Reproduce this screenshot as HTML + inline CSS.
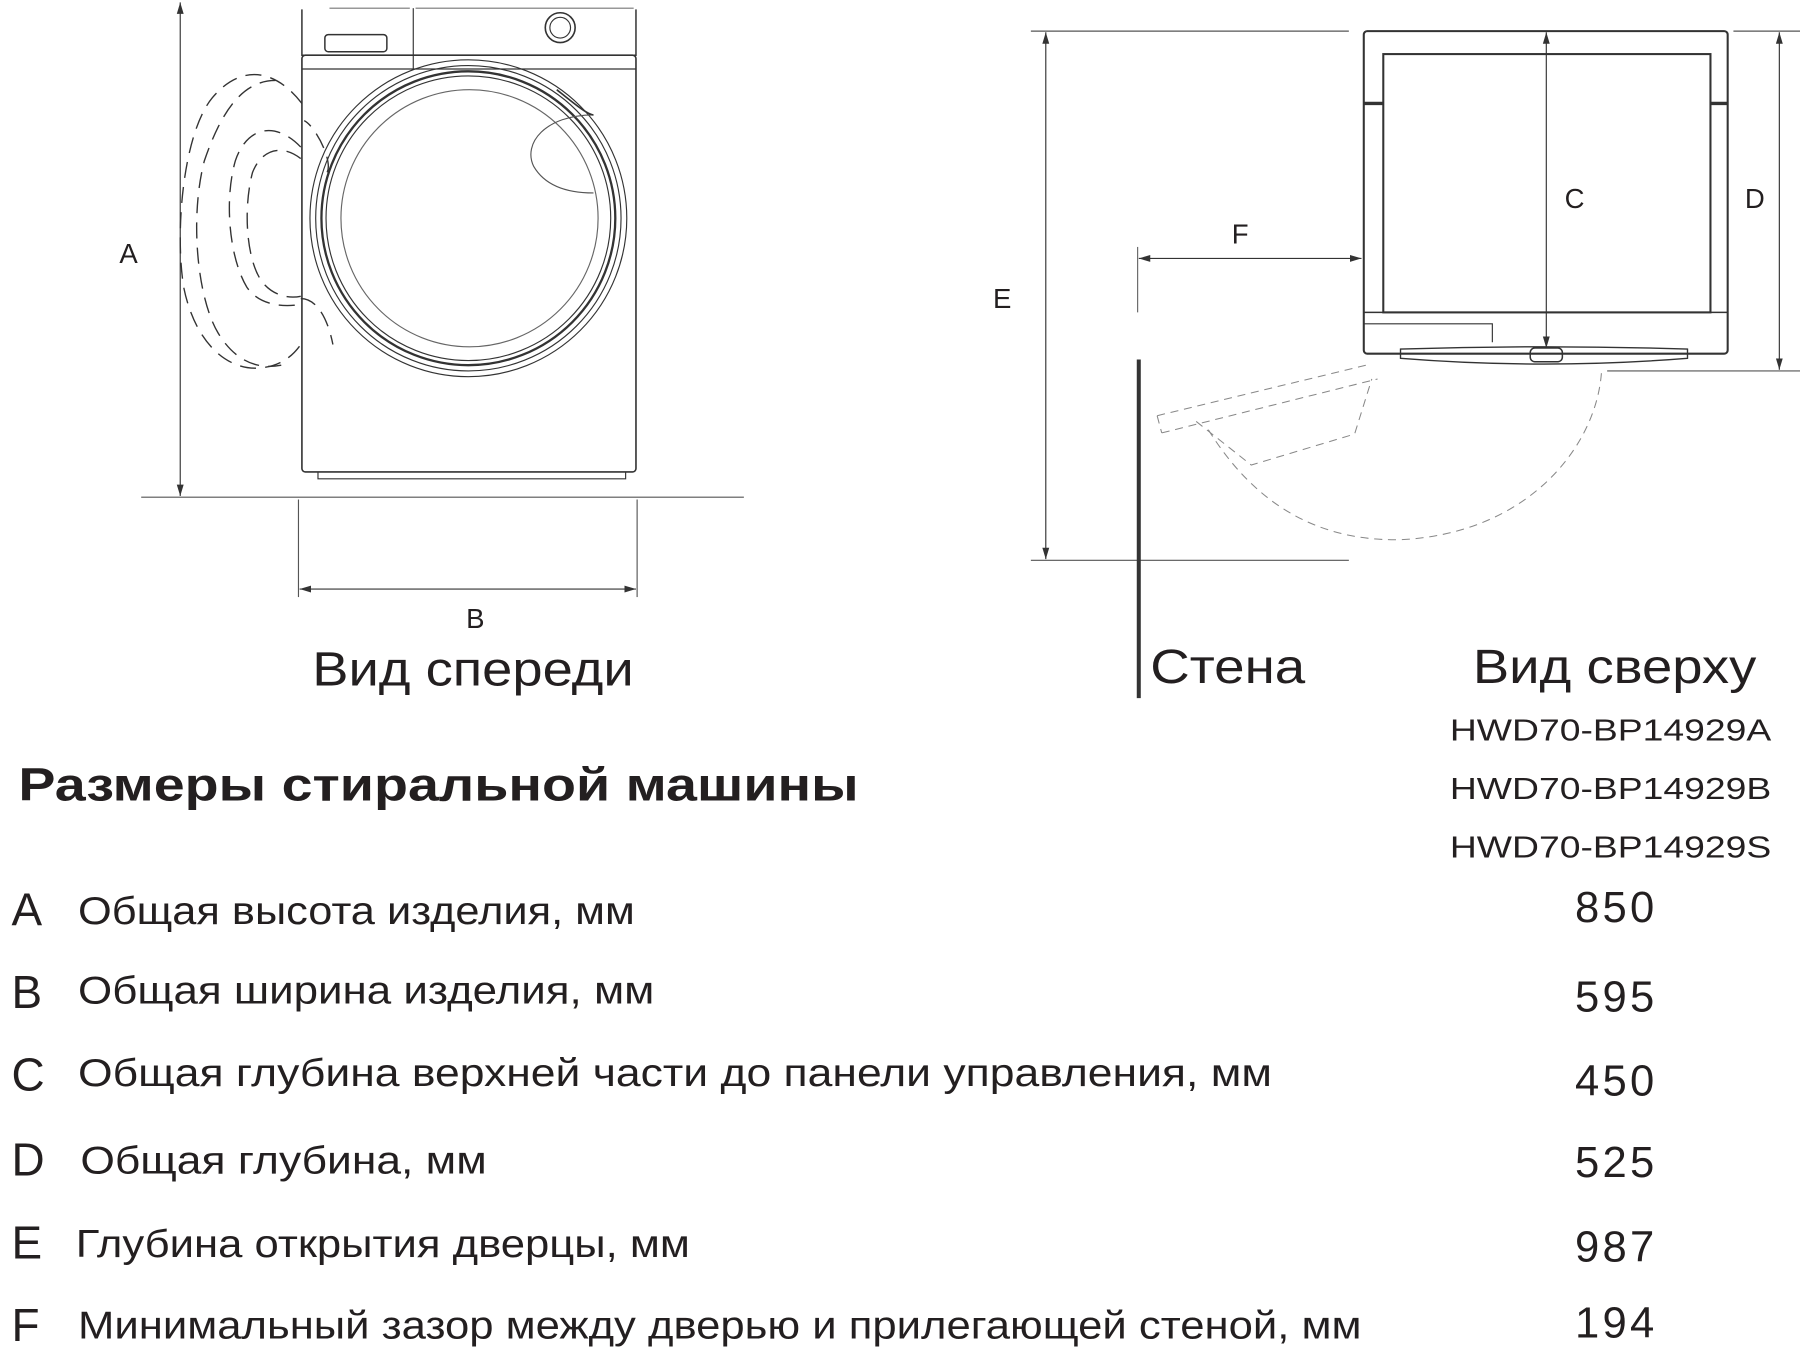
<!DOCTYPE html>
<html><head><meta charset="utf-8"><style>
html,body{margin:0;padding:0;background:#fff;}
svg{display:block;}
text{font-family:"Liberation Sans","DejaVu Sans",sans-serif;fill:#231f20;}
</style></head><body>
<svg width="1800" height="1356" viewBox="0 0 1568 1181" xmlns="http://www.w3.org/2000/svg">
<defs>
<marker id="ar" viewBox="0 0 10 10" refX="10" refY="5" markerWidth="10" markerHeight="10" orient="auto-start-reverse" markerUnits="userSpaceOnUse">
<path d="M0,2 L10,5 L0,8 z" fill="#333"/></marker>
</defs>
<g stroke="#333" fill="none" stroke-width="1">
<!-- FRONT VIEW -->
<line x1="157" y1="2" x2="157" y2="432" marker-start="url(#ar)" marker-end="url(#ar)"/>
<line x1="123" y1="433" x2="648" y2="433" stroke="#555"/>
<rect x="263" y="48" width="291" height="363" rx="3" stroke-width="1.4"/>
<path d="M263,8 L263,48 L554,48 L554,8" stroke-width="1.3"/>
<line x1="287" y1="7" x2="357" y2="7" stroke="#777"/>
<line x1="362" y1="7" x2="552" y2="7" stroke="#777"/>
<line x1="360" y1="7" x2="360" y2="60"/>
<line x1="263" y1="60" x2="554" y2="60"/>
<rect x="283" y="30" width="54" height="15" rx="3" stroke-width="1.3"/>
<circle cx="488" cy="24" r="13" stroke-width="1.4"/>
<circle cx="488" cy="24" r="9"/>
<path d="M277,411 L277,417 L545,417 L545,411"/>
<circle cx="408" cy="190" r="138"/>
<circle cx="408" cy="190" r="133"/>
<circle cx="408" cy="190" r="128" stroke-width="2"/>
<circle cx="408" cy="190" r="124"/>
<circle cx="409" cy="190" r="112" stroke="#666"/>
<path d="M517,100 C475,100 455,125 465,145 C475,162 495,168 517,168" stroke="#555"/>
<path d="M485,78 C500,90 512,100 517,100" stroke="#333" stroke-width="1.5"/>
<g stroke-dasharray="14,8" stroke-width="1.2">
<path d="M263,90 C240,60 210,55 185,85 C160,115 152,200 160,250 C170,300 200,325 230,320 C245,318 255,310 262,300"/>
<path d="M240,70 C215,70 195,90 178,140 C165,190 172,260 190,290 C205,315 225,322 245,318"/>
<path d="M285,150 C290,140 275,110 265,105"/>
<path d="M262,260 C275,260 285,275 290,300"/>
<path d="M262,128 C240,105 215,110 205,140 C195,175 200,225 215,250 C225,265 245,268 262,265"/>
<path d="M262,138 C245,125 228,130 220,150 C212,180 214,225 228,245 C238,258 252,260 262,258"/>
</g>
<line x1="260" y1="435" x2="260" y2="520" stroke="#555"/>
<line x1="555" y1="435" x2="555" y2="520" stroke="#555"/>
<line x1="261" y1="513" x2="554" y2="513" marker-start="url(#ar)" marker-end="url(#ar)"/>
<!-- TOP VIEW -->
<line x1="898" y1="27" x2="1175" y2="27" stroke="#555"/>
<line x1="898" y1="488" x2="1175" y2="488" stroke="#555"/>
<line x1="911" y1="28" x2="911" y2="487" marker-start="url(#ar)" marker-end="url(#ar)"/>
<line x1="992" y1="313" x2="992" y2="608" stroke-width="3.5"/>
<line x1="991" y1="215" x2="991" y2="272" stroke="#666"/>
<line x1="992" y1="225" x2="1186" y2="225" marker-start="url(#ar)" marker-end="url(#ar)"/>
<rect x="1188" y="27" width="317" height="281" rx="3" stroke-width="1.8"/>
<rect x="1205" y="47" width="285" height="225" stroke-width="1.8"/>
<line x1="1188" y1="90" x2="1205" y2="90" stroke-width="3"/>
<line x1="1490" y1="90" x2="1505" y2="90" stroke-width="3"/>
<line x1="1188" y1="272" x2="1505" y2="272" stroke-width="1.4"/>
<path d="M1188,282 L1300,282 L1300,298" />
<path d="M1220,304 Q1345,300 1470,304 L1470,312 Q1345,322 1220,312 z" stroke-width="1.2"/>
<rect x="1333" y="303" width="28" height="12" rx="4" stroke-width="1.3"/>
<line x1="1347" y1="28" x2="1347" y2="303" marker-start="url(#ar)" marker-end="url(#ar)"/>
<line x1="1510" y1="27" x2="1568" y2="27" stroke="#555"/>
<line x1="1400" y1="323" x2="1568" y2="323" stroke="#555"/>
<line x1="1550" y1="28" x2="1550" y2="322" marker-start="url(#ar)" marker-end="url(#ar)"/>
<g stroke="#888" stroke-dasharray="7,5" stroke-width="0.9">
<path d="M1395,325 C1390,390 1330,465 1220,470 C1130,472 1080,420 1050,370"/>
<path d="M1008,362 L1190,318 M1012,377 L1200,330 M1008,362 L1012,377"/>
<path d="M1042,367 L1090,405 L1180,378 L1195,330"/>
</g>
</g>
<text x="104" y="229" font-size="24" fill="#444">A</text>
<text x="406" y="547" font-size="24" fill="#444">B</text>
<text x="865" y="268" font-size="24" fill="#444">E</text>
<text x="1073" y="212" font-size="24" fill="#444">F</text>
<text x="1363" y="181" font-size="24" fill="#444">C</text>
<text x="1520" y="181" font-size="24" fill="#444">D</text>
<text x="272" y="597" font-size="42" textLength="280" lengthAdjust="spacingAndGlyphs">Вид спереди</text>
<text x="1002" y="595" font-size="42" textLength="135" lengthAdjust="spacingAndGlyphs">Стена</text>
<text x="1283" y="595" font-size="42" textLength="247" lengthAdjust="spacingAndGlyphs">Вид сверху</text>
<text x="1263" y="645" font-size="27" textLength="280" lengthAdjust="spacingAndGlyphs">HWD70-BP14929A</text>
<text x="1263" y="696" font-size="27" textLength="280" lengthAdjust="spacingAndGlyphs">HWD70-BP14929B</text>
<text x="1263" y="747" font-size="27" textLength="280" lengthAdjust="spacingAndGlyphs">HWD70-BP14929S</text>
<text x="16" y="697" font-size="40" font-weight="bold" fill="#333" textLength="732" lengthAdjust="spacingAndGlyphs">Размеры стиральной машины</text>
<g font-size="40" fill="#333">
<text x="10" y="806">A</text><text x="10" y="878">B</text><text x="10" y="950">C</text>
<text x="10" y="1024">D</text><text x="10" y="1096">E</text><text x="10" y="1168">F</text>
</g>
<g font-size="34">
<text x="68" y="805" textLength="485" lengthAdjust="spacingAndGlyphs">Общая высота изделия, мм</text>
<text x="68" y="874" textLength="502" lengthAdjust="spacingAndGlyphs">Общая ширина изделия, мм</text>
<text x="68" y="946" textLength="1040" lengthAdjust="spacingAndGlyphs">Общая глубина верхней части до панели управления, мм</text>
<text x="70" y="1022" textLength="354" lengthAdjust="spacingAndGlyphs">Общая глубина, мм</text>
<text x="66" y="1095" textLength="535" lengthAdjust="spacingAndGlyphs">Глубина открытия дверцы, мм</text>
<text x="68" y="1166" textLength="1118" lengthAdjust="spacingAndGlyphs">Минимальный зазор между дверью и прилегающей стеной, мм</text>
</g>
<g font-size="38" fill="#333">
<text x="1372" y="803" textLength="69">850</text><text x="1372" y="881" textLength="69">595</text><text x="1372" y="954" textLength="69">450</text>
<text x="1372" y="1025" textLength="69">525</text><text x="1372" y="1099" textLength="69">987</text><text x="1372" y="1165" textLength="69">194</text>
</g>
</svg>
</body></html>
